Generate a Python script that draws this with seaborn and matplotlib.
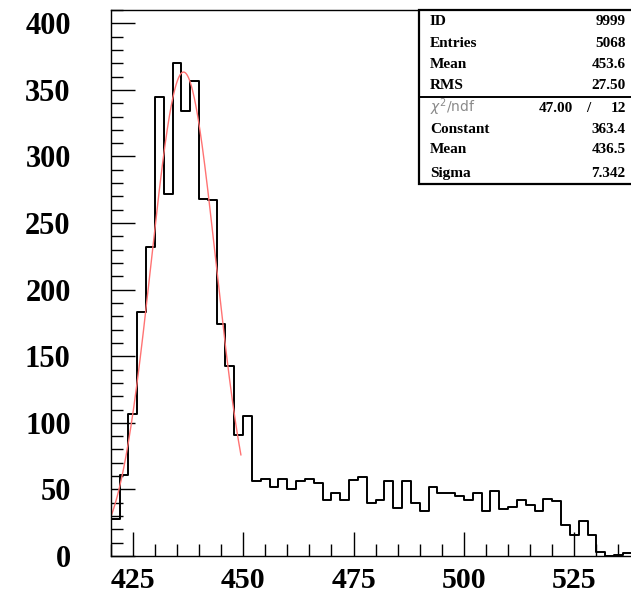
import numpy as np
import pandas as pd
import matplotlib
matplotlib.use("Agg")
import matplotlib.pyplot as plt
from matplotlib.ticker import MultipleLocator
from matplotlib.patches import Rectangle
import seaborn as sns

# ---------------- data ----------------
bin_start = 420
bin_width = 2
counts = [28, 61, 107, 183, 232, 345, 272, 370, 334, 357,
          268, 267, 174, 143, 91, 105, 56, 58, 52, 58,
          50, 56, 58, 55, 42, 47, 42, 57, 59, 40,
          42, 56, 36, 56, 40, 34, 52, 47, 47, 45,
          42, 47, 34, 49, 35, 37, 42, 38, 34, 43,
          41, 23, 16, 26, 16, 3, 0, 1, 2, 2]
x_ticks = [425, 450, 475, 500, 525]
y_ticks = [0, 50, 100, 150, 200, 250, 300, 350, 400]

# fit parameters (as printed in the stats box)
fit_const = 363.4
fit_mean = 436.5
fit_sigma = 7.342
fit_range = (420.0, 449.5)

stats_top = [("ID", "9999"), ("Entries", "5068"), ("Mean", "453.6"), ("RMS", "27.50")]
chi2_val, ndf_val = "47.00", "12"
stats_bot = [("Constant", "363.4"), ("Mean", "436.5"), ("Sigma", "7.342")]

# ---------------- figure ----------------
sns.set_theme(style="white")
plt.rcParams["font.family"] = ["Liberation Serif", "DejaVu Serif"]

W, H = 631, 596
fig = plt.figure(figsize=(W / 100, H / 100), dpi=100)
fig.patch.set_facecolor("white")

ax_l, ax_r, ax_t, ax_b = 110.7, 640.5, 10.0, 556.0
ax = fig.add_axes([ax_l / W, 1 - ax_b / H, (ax_r - ax_l) / W, (ax_b - ax_t) / H])
ax.set_facecolor("white")

n_bins = len(counts)
hist_end = bin_start + bin_width * n_bins
centers = bin_start + bin_width * np.arange(n_bins) + bin_width / 2
df = pd.DataFrame({"x": centers, "n": np.asarray(counts, dtype=float)})

sns.histplot(data=df, x="x", weights="n", binwidth=bin_width,
             binrange=(bin_start, hist_end), element="step",
             fill=False, color="black", linewidth=1.4, ax=ax)

xf = np.linspace(fit_range[0], fit_range[1], 300)
yf = fit_const * np.exp(-0.5 * ((xf - fit_mean) / fit_sigma) ** 2)
sns.lineplot(x=xf, y=yf, color="#ff7373", linewidth=1.0, ax=ax)

ax.set_xlim(420, 540)
ax.set_ylim(0, 410)
ax.set_xlabel("")
ax.set_ylabel("")

ax.set_xticks(x_ticks)
ax.set_yticks(y_ticks)
ax.xaxis.set_minor_locator(MultipleLocator(5))
ax.yaxis.set_minor_locator(MultipleLocator(10))

px = 72 / 100
ax.tick_params(axis="both", which="major", direction="in", length=24 * px,
               width=1.0, color="black")
ax.tick_params(axis="both", which="minor", direction="in", length=12 * px,
               width=1.0, color="black")
ax.tick_params(axis="y", which="both", left=True, right=False, pad=40 * px)
ax.tick_params(axis="x", which="both", bottom=True, top=False, pad=11 * px)
for lab in ax.get_yticklabels():
    lab.set_fontweight("bold")
    lab.set_fontsize(22)
    lab.set_color("black")
for lab in ax.get_xticklabels():
    lab.set_fontweight("bold")
    lab.set_fontsize(21.5)
    lab.set_color("black")

for s in ["left", "bottom", "top", "right"]:
    ax.spines[s].set_color("black")
    ax.spines[s].set_linewidth(1.0)

# ---------------- stats box ----------------
def fx(p):
    return p / W

def fy(p):
    return 1 - p / H

box_l, box_t, box_b, box_div, box_r = 419.0, 9.5, 184.3, 96.7, 645.0
fig.add_artist(Rectangle((fx(box_l), fy(box_b)), fx(box_r - box_l), (box_b - box_t) / H,
                         transform=fig.transFigure, facecolor="white",
                         edgecolor="black", linewidth=1.6, zorder=5))
fig.add_artist(plt.Line2D([fx(box_l), fx(box_r)], [fy(box_div), fy(box_div)],
                          transform=fig.transFigure, color="black",
                          linewidth=1.4, zorder=6))

lab_x, val_x = 430.0, 625.7
top_base = [25.2, 47.4, 68.0, 89.4]
bot_base = [133.4, 153.4, 176.7]
tkw = dict(fontsize=11, fontweight="bold", color="black", va="baseline",
           transform=fig.transFigure, zorder=7)
for (lab, val), b in zip(stats_top, top_base):
    fig.text(fx(lab_x), fy(b), lab, ha="left", **tkw)
    fig.text(fx(val_x), fy(b), val, ha="right", **tkw)
for (lab, val), b in zip(stats_bot, bot_base):
    fig.text(fx(lab_x), fy(b), lab, ha="left", **tkw)
    fig.text(fx(val_x), fy(b), val, ha="right", **tkw)

fig.text(fx(lab_x), fy(112.0), r"$\chi^{2}$/ndf", ha="left", va="baseline",
         fontsize=10, color="#8a8a8a", family=["DejaVu Sans"],
         transform=fig.transFigure, zorder=7)
fig.text(fx(573.3), fy(112.0), chi2_val, ha="right", **tkw)
fig.text(fx(588.0), fy(112.0), "/", ha="center", **tkw)
fig.text(fx(val_x), fy(112.0), ndf_val, ha="right", **tkw)

fig.savefig("out.png", dpi=100, facecolor="white")
